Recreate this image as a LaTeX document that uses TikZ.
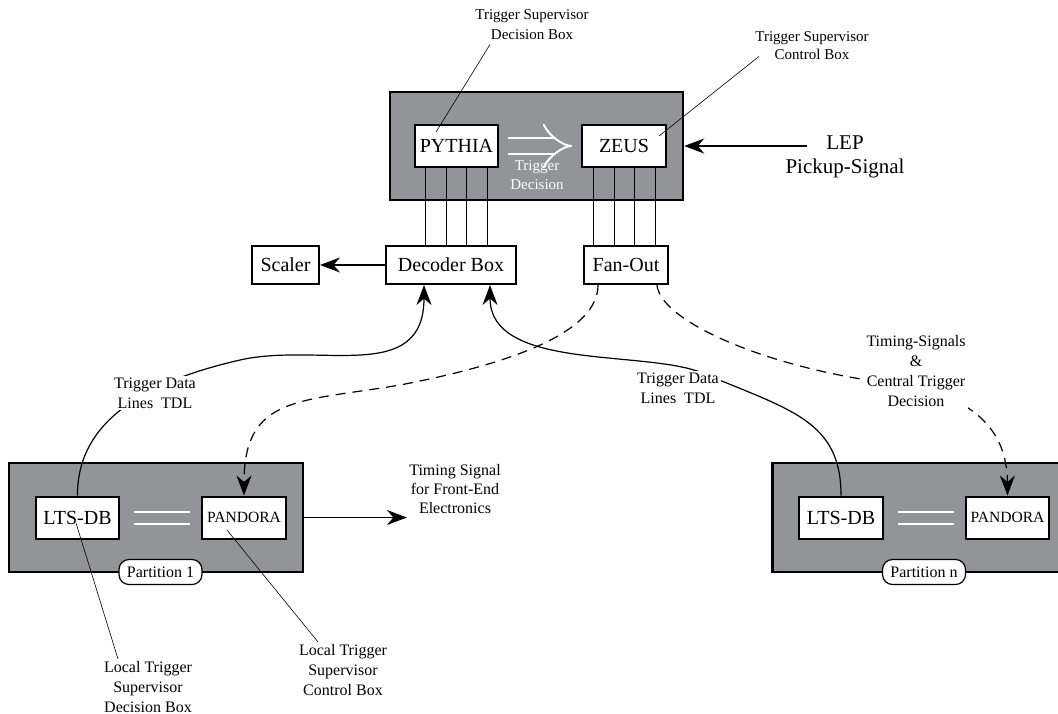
\documentclass[tikz,border=0pt]{standalone}
\usepackage{fontspec}
\setmainfont{Liberation Serif}
\usetikzlibrary{arrows.meta}
\definecolor{boxgray}{RGB}{147,148,152}

\begin{document}
\begin{tikzpicture}[x=0.5pt, y=-0.5pt,
  crate/.style={draw, line width=1.2pt, fill=boxgray, inner sep=0pt},
  unit/.style={draw, line width=1pt, fill=white, inner sep=0pt, minimum height=21pt, font=\fontsize{10}{12}\selectfont},
  parttag/.style={draw, line width=0.6pt, fill=white, rounded corners=5pt, inner sep=0pt, minimum width=41.5pt, minimum height=12.5pt, font=\fontsize{8}{10}\selectfont},
  tag/.style={align=center, inner sep=1pt, font=\fontsize{8}{10}\selectfont},
  sig/.style={line width=0.6pt, -{Stealth[length=10pt,width=7.5pt]}},
  pulse/.style={sig, dash pattern=on 5pt off 3.5pt},
  bus/.style={line width=0.5pt},
  lead/.style={line width=0.3pt},
  link/.style={draw=white, line width=1pt, double=boxgray, double distance=5pt},
  verdict/.style={link, double distance=7pt, shorten <=4.5pt, shorten >=4.5pt, -{Implies}}]
  \useasboundingbox (0,0) rectangle (1058,713);

  % Nodes
  \node[crate, minimum width=146.5pt, minimum height=54pt] (supervisor) at (536.5,146) {};
  \node[unit, minimum width=41.5pt] (pythia) at (456.5,146) {PYTHIA};
  \node[unit, minimum width=42pt] (zeus) at (624,146) {ZEUS};
  \node[unit, minimum width=65pt, minimum height=19pt] (decoderbox) at (451,265) {Decoder Box};
  \node[unit, minimum width=42pt, minimum height=19pt] (fanout) at (626,265) {Fan-Out};
  \node[unit, minimum width=33.5pt, minimum height=19pt] (scaler) at (285.5,265) {Scaler};

  \node[crate, minimum width=147pt, minimum height=54.5pt] (partition1) at (156,517.5) {};
  \node[unit, minimum width=41.5pt] (ltsdb1) at (77.5,517.5) {LTS-DB};
  \node[unit, minimum width=42pt, font=\fontsize{7.8}{9}\selectfont] (pandora1) at (244,517.5) {PANDORA};
  \node[parttag] (tag1) at (160.5,572) {Partition 1};

  \node[crate, minimum width=147pt, minimum height=54.5pt] (partitionn) at (919.5,517.5) {};
  \node[unit, minimum width=42pt] (ltsdbn) at (841,517.5) {LTS-DB};
  \node[unit, minimum width=41.5pt, font=\fontsize{7.8}{9}\selectfont] (pandoran) at (1007.5,517.5) {PANDORA};
  \node[parttag] (tagn) at (924,572) {Partition n};

  % Edges
  \draw[verdict] (pythia) -- (zeus);
  \draw[link, shorten <=7pt, shorten >=5.5pt] (ltsdb1) -- (pandora1);
  \draw[link, shorten <=7pt, shorten >=5.5pt] (ltsdbn) -- (pandoran);
  \foreach \dx in {-15.5,-5,5,15.5} {
    \draw[bus] ([xshift=\dx pt]pythia.south) -- ([xshift=\dx pt]pythia.south |- decoderbox.north);
    \draw[bus] ([xshift=\dx pt]zeus.south) -- ([xshift=\dx pt]zeus.south |- fanout.north);
  }
  \draw[sig] (decoderbox) -- (scaler);
  \draw[sig] (ltsdb1.north) .. controls (77,430) and (130,385) .. (240,360)
    .. controls (320,342) and (424,385) .. ([xshift=-13.5pt]decoderbox.south);
  \draw[sig] (ltsdbn.north) .. controls (841,420) and (790,410) .. (700,372)
    .. controls (640,350) and (490,370) .. ([xshift=19.5pt]decoderbox.south);
  \draw[pulse] ([xshift=-14pt]fanout.south) .. controls (598,330) and (520,362) .. (400,385)
    .. controls (300,402) and (244,395) .. (pandora1.north);
  \draw[pulse] ([xshift=15.5pt]fanout.south) .. controls (660,320) and (760,365) .. (880,382)
    .. controls (960,390) and (1007,420) .. (pandoran.north);

  % Labels
  \node[tag, font=\fontsize{7.5}{10}\selectfont] (decisionlabel) at (532,25) {Trigger Supervisor\\Decision Box};
  \node[tag, font=\fontsize{7.5}{9}\selectfont] (controllabel) at (812,46) {Trigger Supervisor\\Control Box};
  \node[tag, font=\fontsize{10.5}{12}\selectfont] (leplabel) at (845,157) {LEP\\Pickup-Signal};
  \node[tag, text=white, font=\fontsize{7.5}{9.5}\selectfont] (verdictlabel) at (537,175) {Trigger\\Decision};
  \node[tag, fill=white] (tdl1) at (155,393) {Trigger Data\\Lines\ \ TDL};
  \node[tag, fill=white] (tdln) at (678,388) {Trigger Data\\Lines\ \ TDL};
  \node[tag, fill=white] (timinglabel) at (916,371) {Timing-Signals\\\&\\Central Trigger\\Decision};
  \node[tag, font=\fontsize{8}{9.5}\selectfont] (frontend) at (455,489) {Timing Signal\\for Front-End\\Electronics};
  \node[tag] (ltsdblabel) at (148,687) {Local Trigger\\Supervisor\\Decision Box};
  \node[tag] (pandoralabel) at (343,670) {Local Trigger\\Supervisor\\Control Box};

  \draw[sig] ([xshift=12pt]leplabel.west |- zeus) -- (supervisor.east |- zeus);
  \draw[sig] (partition1.east) -- (frontend.west |- partition1.east);
  \draw[lead] ([xshift=-21pt,yshift=-1pt]decisionlabel.south) -- ([xshift=11pt,yshift=-4pt]pythia.north west);
  \draw[lead] ([xshift=3pt,yshift=3pt]controllabel.south west) -- ([xshift=-4pt,yshift=-6pt]zeus.north east);
  \draw[lead] ([xshift=-15pt]ltsdblabel.north) -- ([xshift=-0.75pt,yshift=-2.75pt]ltsdb1.center);
  \draw[lead] ([xshift=-12.5pt]pandoralabel.north) -- ([xshift=-8.5pt,yshift=-6.25pt]pandora1.center);
\end{tikzpicture}
\end{document}
